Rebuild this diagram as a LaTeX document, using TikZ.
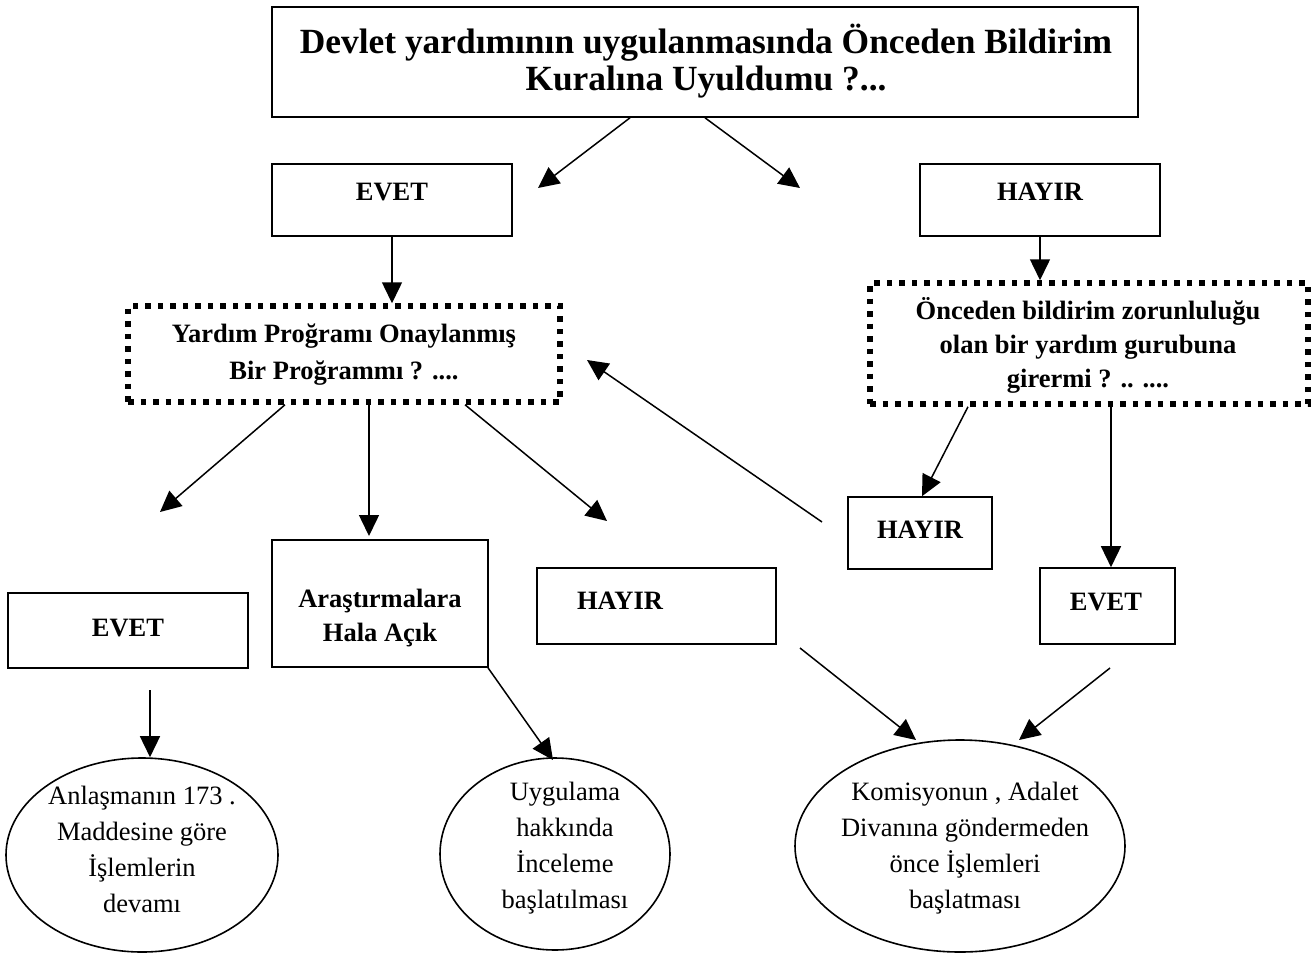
\documentclass[tikz,border=0pt]{standalone}
\usepackage{fontspec}
\setmainfont{Liberation Serif}
\usetikzlibrary{arrows.meta,calc,shapes.geometric}
\begin{document}
\begin{tikzpicture}[x=1pt,y=-1pt,
  box/.style={draw, line width=1.6pt, inner sep=0pt, rectangle},
  dotbox/.style={draw, line width=5.5pt, dash pattern=on 5.5pt off 7pt, inner sep=0pt, rectangle},
  oval/.style={draw, line width=1.6pt, inner sep=0pt, ellipse},
  btxt/.style={inner sep=0pt, align=center, font=\fontsize{26.5}{34}\selectfont\bfseries},
  ttxt/.style={inner sep=0pt, align=center, font=\fontsize{35.4}{37}\selectfont\bfseries},
  rtxt/.style={inner sep=0pt, align=center, font=\fontsize{26.5}{36}\selectfont},
  arr/.style={-{Triangle[length=21pt,width=20pt]}, line width=1.5pt}
]
\useasboundingbox (0,0) rectangle (1314,956);
% boxes
\node[box, minimum width=866pt, minimum height=110pt] (top) at (705,62) {};
\node[box, minimum width=240pt, minimum height=72pt] (evet1) at (392,200) {};
\node[box, minimum width=240pt, minimum height=72pt] (hayir1) at (1040,200) {};
\node[dotbox, minimum width=432pt, minimum height=96pt] (q1) at (344,354) {};
\node[dotbox, minimum width=438pt, minimum height=121pt] (q2) at (1089,343.5) {};
\node[box, minimum width=144pt, minimum height=72pt] (hayir2) at (920,533) {};
\node[box, minimum width=135pt, minimum height=76pt] (evet2) at (1107.5,606) {};
\node[box, minimum width=240pt, minimum height=75pt] (evet3) at (128,630.5) {};
\node[box, minimum width=216pt, minimum height=127pt] (aras) at (380,603.5) {};
\node[box, minimum width=239pt, minimum height=76pt] (hayir3) at (656.5,606) {};
\node[oval, minimum width=272pt, minimum height=194pt] (ell1) at (142,855) {};
\node[oval, minimum width=230pt, minimum height=192pt] (ell2) at (555,854) {};
\node[oval, minimum width=330pt, minimum height=212pt] (ell3) at (960,846) {};
% texts
\node[ttxt] (ttop) at (706,61) {Devlet yardımının uygulanmasında Önceden Bildirim\\Kuralına Uyuldumu ?...};
\node[btxt] (tevet1) at (392,192) {EVET};
\node[btxt] (thayir1) at (1040,192) {HAYIR};
\node[btxt, font=\fontsize{26.5}{37}\selectfont\bfseries] (tq1) at (344,355) {Yardım Proğramı Onaylanmış\\Bir Proğrammı ? ....};
\node[btxt] (tq2) at (1088,345) {Önceden bildirim zorunluluğu\\olan bir yardım gurubuna\\girermi ? .. ....};
\node[btxt] (thayir2) at (920,530) {HAYIR};
\node[btxt] (tevet2) at (1106,602) {EVET};
\node[btxt] (tevet3) at (128,628) {EVET};
\node[btxt] (taras) at (380,618) {Araştırmalara\\Hala Açık};
\node[btxt] (thayir3) at (620,601) {HAYIR};
\node[rtxt] (tell1) at (142,849) {Anlaşmanın 173 .\\Maddesine göre\\İşlemlerin\\devamı};
\node[rtxt] (tell2) at (565,848) {Uygulama\\hakkında\\İnceleme\\başlatılması};
\node[rtxt] (tell3) at (965,848) {Komisyonun , Adalet\\Divanına göndermeden\\önce İşlemleri\\başlatması};
% free ends
\coordinate (c1) at (538,188);
\coordinate (c2) at (800,188);
\coordinate (c6s) at (822,522);
\coordinate (c6e) at (587,360);
\coordinate (c8) at (160,512);
\coordinate (c9) at (369,536);
\coordinate (c10) at (607,521);
\coordinate (c11s) at (150,690);
\coordinate (c12) at (553,760);
\coordinate (c13s) at (800,648);
\coordinate (c13e) at (916,740);
\coordinate (c14s) at (1110,668);
\coordinate (c14e) at (1019,740);
% connectors
\draw[arr] ($(top.south)+(-75,0)$) -- (c1);
\draw[arr] (top.south) -- (c2);
\draw[arr] (evet1.south) -- (evet1.south |- q1.north);
\draw[arr] (hayir1.south) -- (q2.north -| hayir1.south);
\draw[arr] ($(q2.south)+(-121,0)$) -- ($(hayir2.north)+(2,0)$);
\draw[arr] (c6s) -- (c6e);
\draw[arr] ($(q2.south)+(22,0)$) -- ($(evet2.north)+(3.5,0)$);
\draw[arr] ($(q1.south)+(-59,0)$) -- (c8);
\draw[arr] ($(q1.south)+(25,0)$) -- (c9);
\draw[arr] ($(q1.south)+(121,0)$) -- (c10);
\draw[arr] (c11s) -- (ell1.north -| c11s);
\draw[arr] ($(aras.south)+(108,0)$) -- (c12);
\draw[arr] (c13s) -- (c13e);
\draw[arr] (c14s) -- (c14e);
\end{tikzpicture}
\end{document}
